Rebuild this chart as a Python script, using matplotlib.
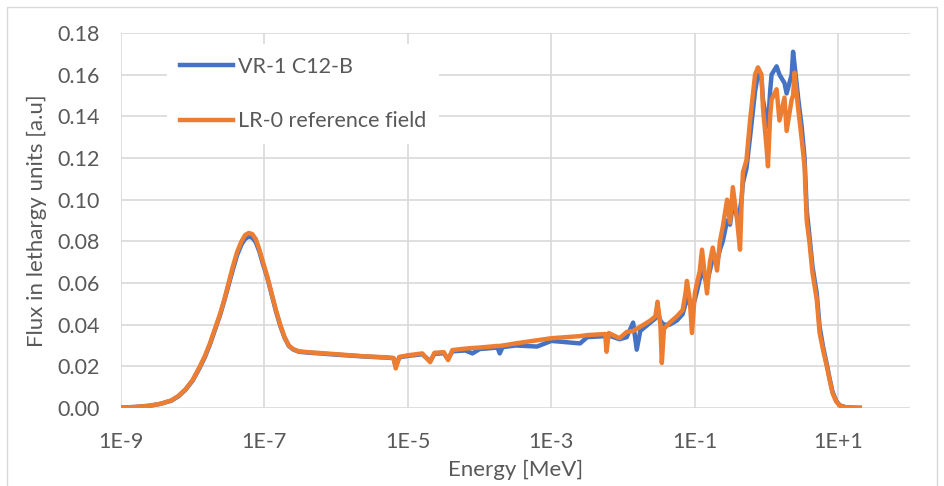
import matplotlib.pyplot as plt
from matplotlib.patches import Rectangle
import numpy as np

# log10 of energy [MeV] for each point
lg_energy = [-9.0, -8.8, -8.6, -8.45, -8.3, -8.2, -8.1, -8.0, -7.9, -7.83,
             -7.76, -7.69, -7.62, -7.56, -7.50, -7.44, -7.38, -7.32, -7.27, -7.22,
             -7.17, -7.12, -7.07, -7.02, -6.96, -6.90, -6.84, -6.78, -6.72, -6.66,
             -6.60, -6.52, -6.40, -6.23,
             -6.0, -5.6, -5.3, -5.2, -5.17, -5.12, -5.0, -4.8, -4.69, -4.63,
             -4.5, -4.44, -4.38, -4.2, -4.1, -4.0, -3.75, -3.72, -3.68, -3.5,
             -3.2, -3.0, -2.6, -2.5, -2.25, -2.23, -2.2, -2.05, -1.95, -1.86,
             -1.81, -1.76, -1.62, -1.55, -1.52, -1.48, -1.46, -1.43, -1.35, -1.25,
             -1.17, -1.13, -1.11, -1.07, -1.04, -1.00, -0.97, -0.93, -0.90, -0.86,
             -0.83, -0.79, -0.75, -0.69, -0.65, -0.61, -0.55, -0.51, -0.47, -0.41,
             -0.37, -0.35, -0.33, -0.28, -0.23, -0.16, -0.12, -0.07, -0.05, 0.00,
             0.02, 0.05, 0.07, 0.14, 0.18, 0.25, 0.28, 0.35, 0.37, 0.39,
             0.44, 0.49, 0.53, 0.56, 0.60, 0.64, 0.70, 0.74, 0.79, 0.84,
             0.88, 0.92, 0.97, 1.02, 1.10, 1.20, 1.30]

flux_vr1 = [0.0002, 0.0005, 0.0011, 0.0020, 0.0035, 0.0056, 0.0088, 0.0132, 0.0195, 0.0245,
            0.0305, 0.0375, 0.0445, 0.0515, 0.0590, 0.0665, 0.0735, 0.0785, 0.0812, 0.0822,
            0.0818, 0.0795, 0.0750, 0.0690, 0.0625, 0.0545, 0.0465, 0.0395, 0.0338, 0.0298,
            0.0281, 0.0270, 0.0266, 0.0262,
            0.0256, 0.0247, 0.0242, 0.0239, 0.0200, 0.0243, 0.0250, 0.0258, 0.0225, 0.0260,
            0.0263, 0.0235, 0.0272, 0.0276, 0.0262, 0.0283, 0.0290, 0.0262, 0.0292, 0.0300,
            0.0295, 0.0322, 0.0310, 0.0340, 0.0345, 0.0340, 0.0348, 0.0330, 0.0340, 0.0410,
            0.0280, 0.0370, 0.0410, 0.0430, 0.0460, 0.0420, 0.0410, 0.0400, 0.0400, 0.0420,
            0.0450, 0.0500, 0.0540, 0.0500, 0.0480, 0.0520, 0.0560, 0.0620, 0.0680, 0.0620,
            0.0600, 0.0660, 0.0720, 0.0700, 0.0760, 0.0800, 0.0900, 0.0880, 0.0980, 0.0920,
            0.0950, 0.1000, 0.1080, 0.1150, 0.1300, 0.1520, 0.1600, 0.1580, 0.1480, 0.1380,
            0.1350, 0.1520, 0.1600, 0.1640, 0.1600, 0.1560, 0.1510, 0.1600, 0.1710, 0.1650,
            0.1490, 0.1350, 0.1200, 0.0950, 0.0820, 0.0680, 0.0550, 0.0390, 0.0290, 0.0210,
            0.0140, 0.0078, 0.0035, 0.0013, 0.0004, 0.0002, 0.0001]

flux_lr0 = [0.0002, 0.0005, 0.0011, 0.0020, 0.0036, 0.0058, 0.0090, 0.0135, 0.0200, 0.0250,
            0.0310, 0.0380, 0.0450, 0.0520, 0.0600, 0.0680, 0.0750, 0.0800, 0.0830, 0.0840,
            0.0835, 0.0810, 0.0760, 0.0700, 0.0630, 0.0550, 0.0470, 0.0400, 0.0340, 0.0300,
            0.0283, 0.0272, 0.0268, 0.0264,
            0.0258, 0.0248, 0.0243, 0.0240, 0.0190, 0.0245, 0.0253, 0.0262, 0.0220, 0.0265,
            0.0268, 0.0230, 0.0278, 0.0285, 0.0288, 0.0290, 0.0298, 0.0298, 0.0300, 0.0310,
            0.0325, 0.0335, 0.0345, 0.0350, 0.0355, 0.0270, 0.0360, 0.0335, 0.0365, 0.0370,
            0.0380, 0.0390, 0.0420, 0.0440, 0.0510, 0.0400, 0.0216, 0.0380, 0.0410, 0.0440,
            0.0470, 0.0550, 0.0610, 0.0520, 0.0360, 0.0550, 0.0600, 0.0660, 0.0760, 0.0640,
            0.0550, 0.0700, 0.0770, 0.0660, 0.0800, 0.0870, 0.1000, 0.0890, 0.1060, 0.0900,
            0.0760, 0.0960, 0.1130, 0.1190, 0.1380, 0.1600, 0.1635, 0.1600, 0.1440, 0.1250,
            0.1160, 0.1400, 0.1480, 0.1530, 0.1380, 0.1490, 0.1330, 0.1480, 0.1500, 0.1610,
            0.1440, 0.1290, 0.1160, 0.0900, 0.0790, 0.0650, 0.0520, 0.0360, 0.0275, 0.0200,
            0.0134, 0.0072, 0.0032, 0.0011, 0.0004, 0.0002, 0.0001]

x_ticks = [1e-9, 1e-7, 1e-5, 1e-3, 1e-1, 1e1]
x_labels = ['1E-9', '1E-7', '1E-5', '1E-3', '1E-1', '1E+1']
y_ticks = [0.00, 0.02, 0.04, 0.06, 0.08, 0.10, 0.12, 0.14, 0.16, 0.18]

plt.rcParams['font.family'] = ['Lato', 'DejaVu Sans']
txt = '#595959'
grid = '#d9d9d9'

energy = 10 ** np.array(lg_energy)

fig = plt.figure(figsize=(9.44, 4.86), dpi=100)
fig.patches.append(Rectangle((7 / 944, -0.1), 930 / 944, 1.1 - 7 / 486,
                             transform=fig.transFigure, fill=False,
                             edgecolor=grid, linewidth=1))
ax = fig.add_axes([121 / 944, 1 - 408 / 486, 789 / 944, 375 / 486])

ax.plot(energy, flux_vr1, color='#4472C4', lw=3.2, solid_joinstyle='round',
        label='VR-1 C12-B', zorder=3)
ax.plot(energy, flux_lr0, color='#ED7D31', lw=3.2, solid_joinstyle='round',
        label='LR-0 reference field', zorder=4)

ax.set_xscale('log')
ax.set_xlim(1e-9, 1e2)
ax.set_ylim(0, 0.18)
ax.set_xticks(x_ticks)
ax.set_xticklabels(x_labels)
ax.minorticks_off()
ax.set_yticks(y_ticks)
ax.set_yticklabels([f'{v:.2f}' for v in y_ticks])
ax.tick_params(length=0, labelsize=15.5, colors=txt)
ax.tick_params(axis='y', pad=15)
ax.tick_params(axis='x', pad=17)
ax.grid(color=grid, lw=1.2)
ax.set_axisbelow(True)
for s in ax.spines.values():
    s.set_visible(False)

ax.set_xlabel('Energy [MeV]', fontsize=16, color=txt, labelpad=6)
ax.set_ylabel('Flux in lethargy units [a.u]', fontsize=16, color=txt, labelpad=8)

leg = ax.legend(loc='upper left', bbox_to_anchor=(0.045, 1.0), fontsize=15.5,
                frameon=True, facecolor='white', edgecolor='none', framealpha=1,
                fancybox=False, handlelength=2.45, handletextpad=0.25,
                labelspacing=1.6, borderpad=0.6)
for t in leg.get_texts():
    t.set_color(txt)

plt.savefig('out.png', dpi=100)
